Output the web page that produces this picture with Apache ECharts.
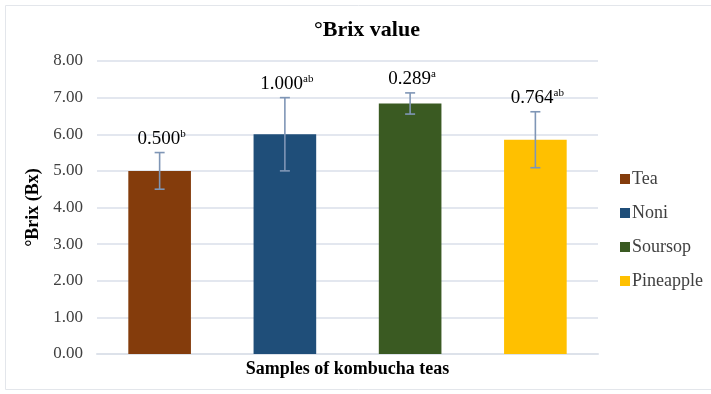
<!DOCTYPE html>
<html>
<head>
<meta charset="utf-8">
<script src="https://cdn.jsdelivr.net/npm/echarts@6/dist/echarts.min.js"></script>
<style>html,body{margin:0;padding:0;background:#fff}#c{width:711px;height:394px}</style>
</head>
<body>
<div id="c"></div>
<script>
var categories = ['Tea', 'Noni', 'Soursop', 'Pineapple'];
var means = [5.00, 6.00, 6.84, 5.85];
var errors = [0.500, 1.000, 0.289, 0.764];
var errorLabels = ['0.500', '1.000', '0.289', '0.764'];
var letters = ['b', 'ab', 'a', 'ab'];
var colors = ['#843C0C', '#1F4E79', '#3A5A22', '#FFC000'];
var yTicks = { min: 0, max: 8, interval: 1 };

var serif = '"Liberation Serif", "DejaVu Serif", serif';
var chart = echarts.init(document.getElementById('c'));

var barSeries = categories.map(function (name, i) {
  var d = categories.map(function (_, j) { return j === i ? means[i] : null; });
  return {
    name: name, type: 'bar', stack: 'all', data: d, barWidth: '50%',
    itemStyle: { color: colors[i] }, emphasis: { disabled: true }
  };
});

var errData = categories.map(function (_, i) {
  return [i, means[i], errors[i]];
});

var errSeries = {
  type: 'custom', z: 10, silent: true,
  data: errData,
  renderItem: function (params, api) {
    var i = params.dataIndex;
    var x = api.value(0), m = api.value(1), e = api.value(2);
    var top = api.coord([x, m + e]);
    var bot = api.coord([x, m - e]);
    var cap = 5;
    var st = { stroke: '#7F96B6', lineWidth: 1.6 };
    return {
      type: 'group',
      children: [
        { type: 'line', shape: { x1: top[0], y1: top[1], x2: bot[0], y2: bot[1] }, style: st },
        { type: 'line', shape: { x1: top[0] - cap, y1: top[1], x2: top[0] + cap, y2: top[1] }, style: st },
        { type: 'line', shape: { x1: bot[0] - cap, y1: bot[1], x2: bot[0] + cap, y2: bot[1] }, style: st },
        {
          type: 'text',
          style: {
            x: top[0] + 2, y: top[1] - 4,
            text: '{n|' + errorLabels[i] + '}{s|' + letters[i] + '}',
            align: 'center', verticalAlign: 'bottom',
            rich: {
              n: { fontFamily: serif, fontSize: 19, color: '#404040', lineHeight: 20 },
              s: { fontFamily: serif, fontSize: 11, color: '#404040', lineHeight: 20, verticalAlign: 'top', padding: [0, 0, 7, 0] }
            }
          }
        }
      ]
    };
  }
};

chart.setOption({
  animation: false,
  title: {
    text: '°Brix value', left: 309, top: 14,
    textStyle: { fontFamily: serif, fontSize: 22, fontWeight: 'bold', color: '#000' }
  },
  graphic: [{
    type: 'rect', shape: { x: 5.5, y: 5.5, width: 720, height: 384 },
    style: { fill: 'none', stroke: '#E3E6EB', lineWidth: 1 }, silent: true
  }],
  legend: {
    orient: 'vertical', left: 615, top: 165, itemGap: 16,
    itemWidth: 10, itemHeight: 10, icon: 'rect',
    data: categories,
    textStyle: { fontFamily: serif, fontSize: 18, color: '#404040', padding: [0, 0, 0, -3] }
  },
  grid: { left: 97, right: 113, top: 61, bottom: 40 },
  xAxis: {
    type: 'category', data: categories,
    name: 'Samples of kombucha teas', nameLocation: 'middle', nameGap: 6,
    nameTextStyle: { fontFamily: serif, fontSize: 18, fontWeight: 'bold', color: '#000', verticalAlign: 'top' },
    axisLabel: { show: false }, axisTick: { show: false },
    axisLine: { lineStyle: { color: '#DDE2EA', width: 2 } }
  },
  yAxis: {
    type: 'value', min: yTicks.min, max: yTicks.max, interval: yTicks.interval,
    name: '°Brix (Bx)', nameLocation: 'middle', nameGap: 54, nameRotate: 90,
    nameTextStyle: { fontFamily: serif, fontSize: 18, fontWeight: 'bold', color: '#000' },
    axisLabel: {
      fontFamily: serif, fontSize: 17, color: '#404040', margin: 14,
      formatter: function (v) { return v.toFixed(2); }
    },
    axisLine: { show: false }, axisTick: { show: false },
    splitLine: { lineStyle: { color: '#E3E7EF', width: 2 } }
  },
  series: barSeries.concat([errSeries])
});
</script>
</body>
</html>
